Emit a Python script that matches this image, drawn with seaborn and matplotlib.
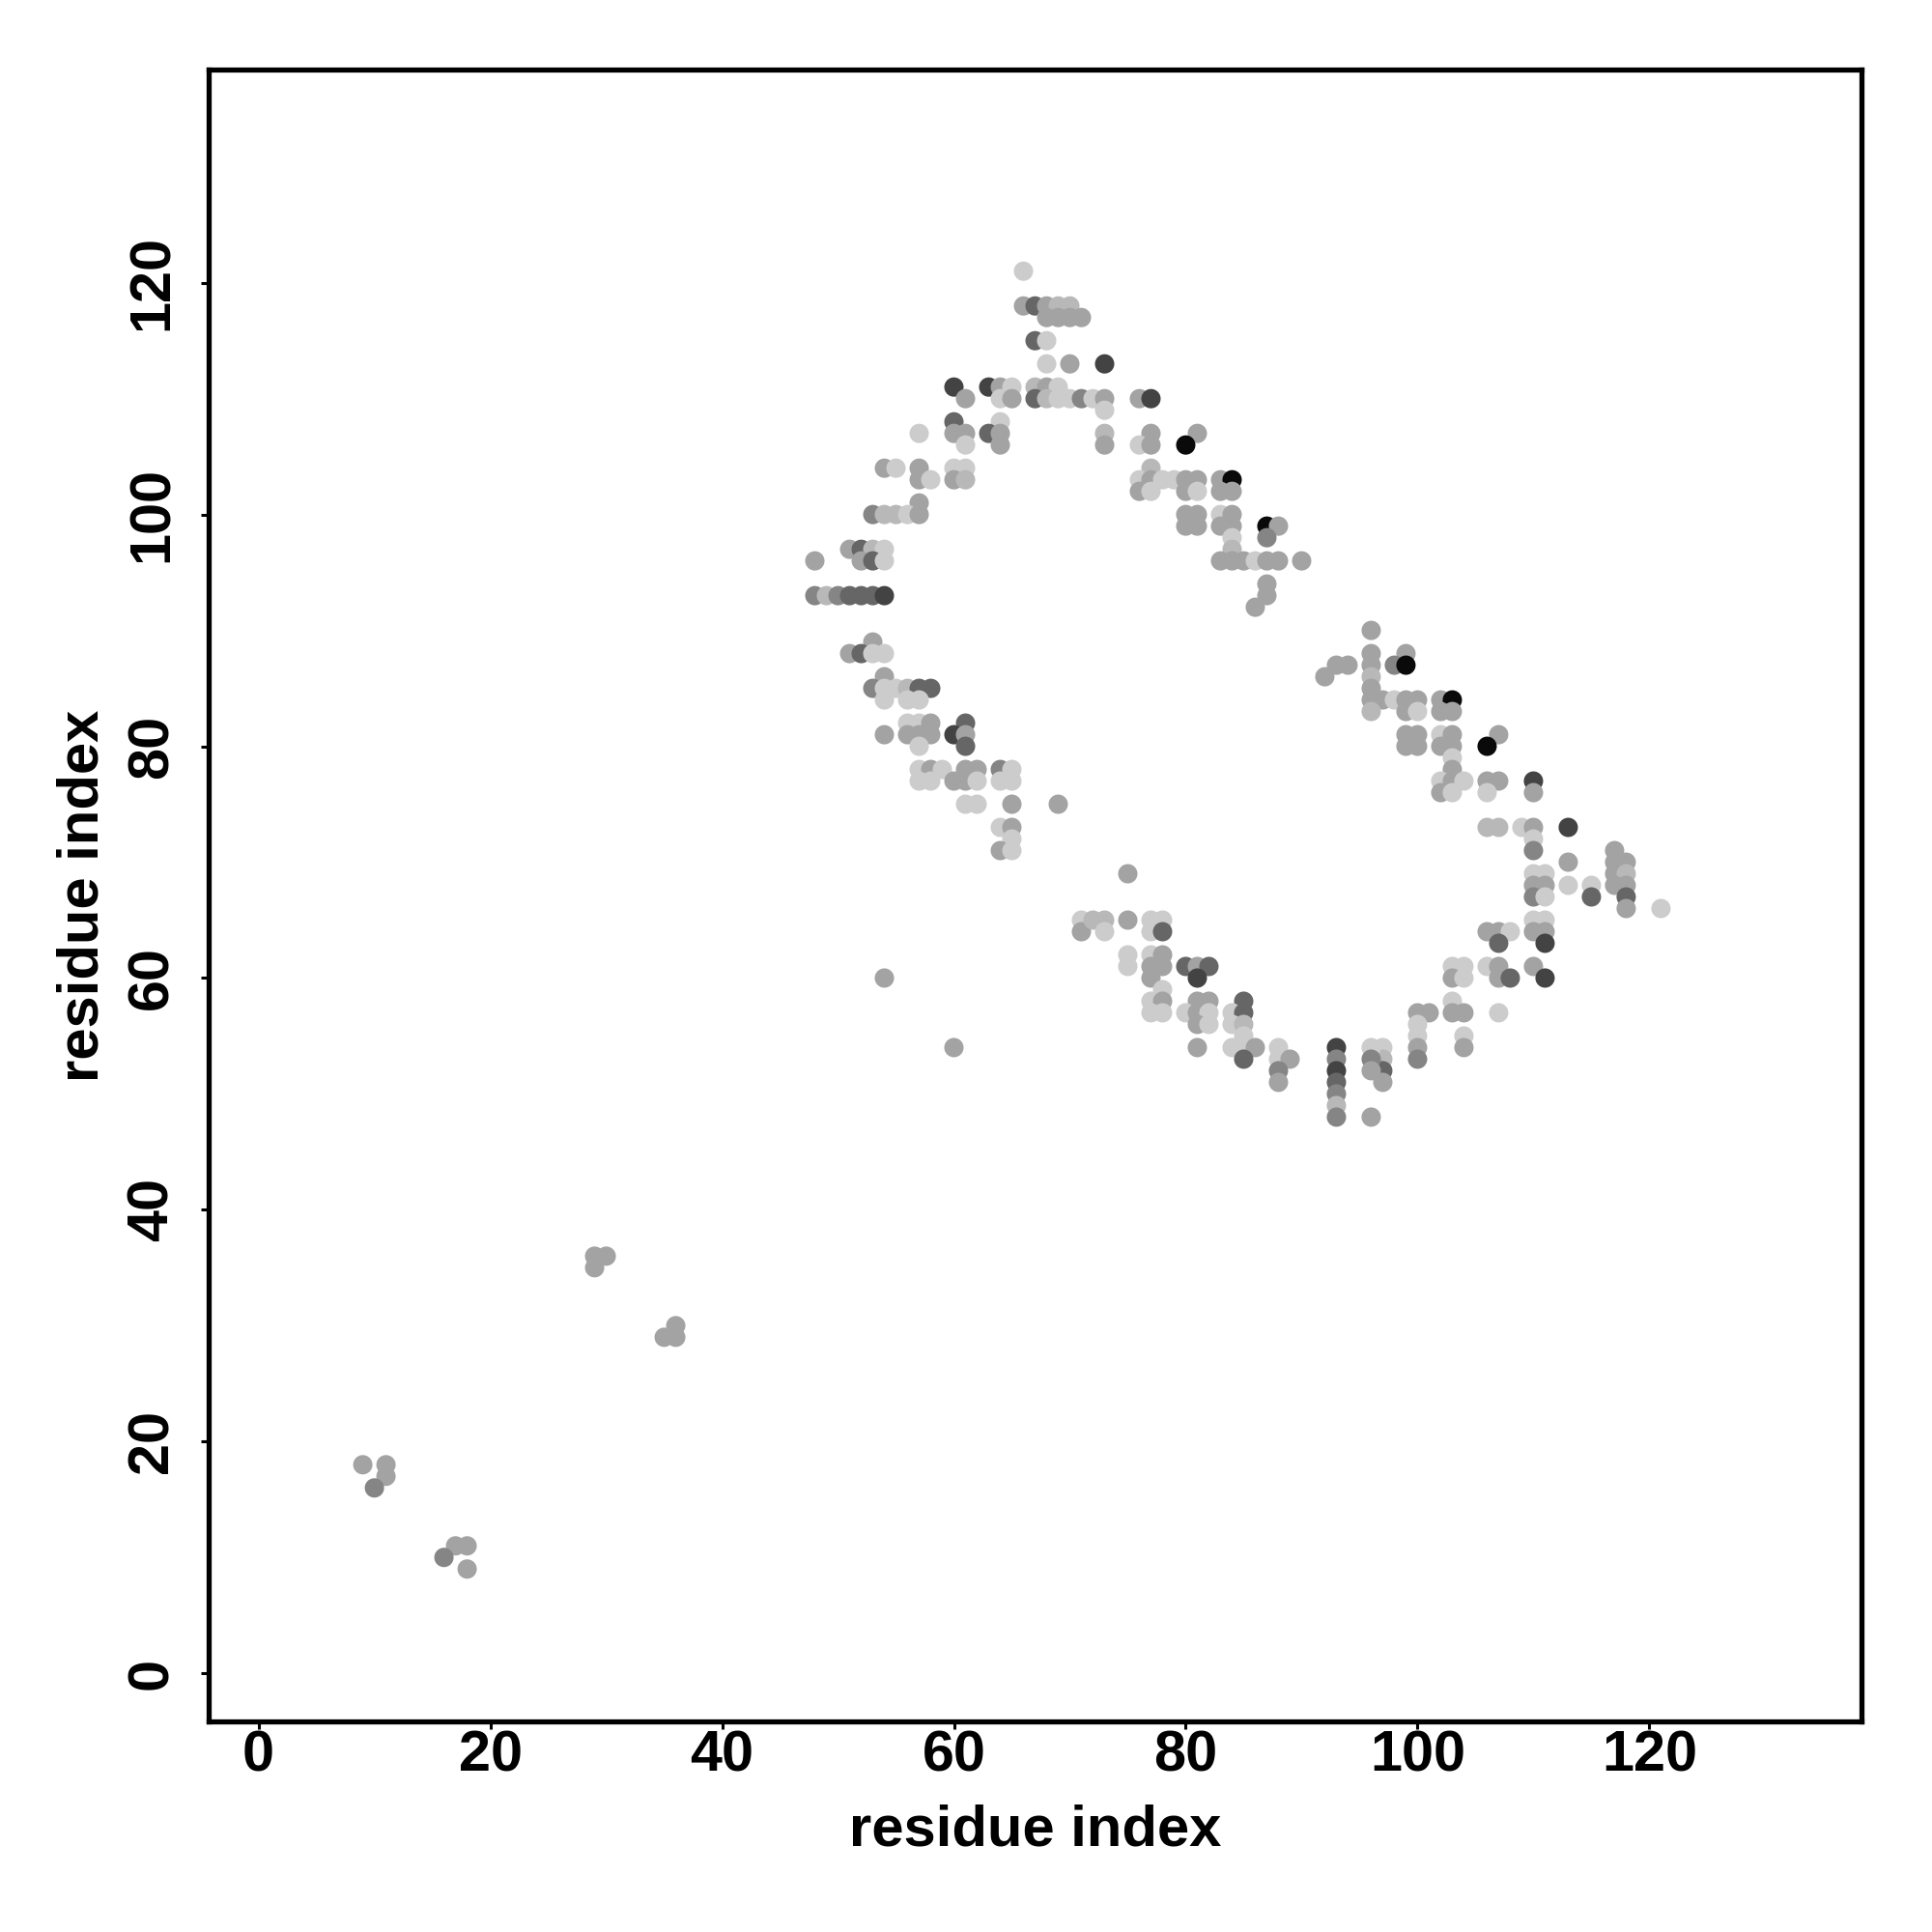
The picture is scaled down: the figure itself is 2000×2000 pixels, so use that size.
import matplotlib
matplotlib.use("Agg")
import matplotlib.pyplot as plt
import seaborn as sns
import pandas as pd
from matplotlib.colors import LinearSegmentedColormap

# shade codes -> score (0 = lightest grey, 1 = black)
SHADE = {"L": 0.0, "l": 0.1, "g": 0.2, "m": 0.35, "d": 0.5, "v": 0.67, "k": 0.95}

res_i = [9, 11, 11, 10, 17, 18, 16, 18, 29, 30, 29, 36, 35, 36,
         66,
         66, 67, 68, 69, 70,
         68, 69, 70, 71,
         67, 68,
         68, 70,
         60, 63, 64, 65, 67, 68, 69,
         61, 64, 65, 67, 68, 69, 70, 71, 72, 73,
         60, 64,
         57, 60, 61, 63, 64,
         61, 64,
         54, 55, 57, 60, 61,
         57, 58, 60, 61,
         57,
         53, 54, 55, 56, 57,
         51, 52, 53, 54,
         48, 52, 53, 54,
         48, 49, 50, 51, 52, 53, 54,
         53,
         51, 52, 53, 54,
         54,
         53, 54, 55, 56, 57, 58,
         54, 56, 57,
         56, 57, 58, 61,
         54, 56, 57, 58, 60, 61,
         57, 61,
         57, 58, 59, 61, 62, 64, 65,
         57, 58, 60, 61, 62, 64, 65,
         61, 62, 65, 69,
         64, 65,
         65,
         64, 65,
         54, 60, 71, 71,
         73,
         76, 77,
         73,
         73, 77, 81,
         73, 76, 77, 80,
         77,
         76, 77, 78, 79, 80, 81, 83, 84,
         76, 77, 80, 81, 83, 84,
         80, 81, 83, 84,
         80, 81, 83, 84, 87, 88,
         84, 87,
         84,
         83, 84, 85, 86, 87, 88, 90,
         87, 87, 86,
         96, 96, 93, 94, 96, 92, 96, 96, 96, 97, 96,
         99, 98, 99,
         98, 99, 100, 102, 103,
         99, 100, 102, 103,
         99, 100, 102, 103, 107,
         99, 100, 102, 103, 106,
         103, 103,
         102, 103, 104, 106, 107, 110,
         102, 103, 106, 110,
         106, 107, 109, 110, 113,
         110,
         110, 117,
         113, 117, 118,
         110, 111, 117, 118,
         110, 111, 113, 115, 117, 118,
         110, 111, 115, 118,
         118, 121,
         110, 111,
         106, 107, 108, 110, 111,
         107, 111,
         103, 104, 106, 107, 110,
         103, 104, 107, 108, 111,
         103,
         100, 101, 103, 104, 107,
         100, 100, 104,
         100, 104, 97,
         100, 97,
         97, 97,
         75,
         72, 73, 75, 77, 78,
         73, 77, 78,
         75, 77, 78,
         75, 77, 78, 80, 81, 82,
         77, 81,
         78,
         77, 78, 81, 82, 85,
         77, 78, 80, 81, 82, 84, 85,
         81, 82, 84, 85,
         85,
         81, 84, 85, 86, 88,
         85, 88, 89,
         88, 88,
         93, 93, 93, 93, 93, 93, 93,
         96, 96, 96, 96]

res_j = [18, 18, 17, 16, 11, 11, 10, 9, 36, 36, 35, 30, 29, 29,
         121,
         118, 118, 118, 118, 118,
         117, 117, 117, 117,
         115, 115,
         113, 113,
         111, 111, 111, 111, 111, 111, 111,
         110, 110, 110, 110, 110, 110, 110, 110, 110, 110,
         108, 108,
         107, 107, 107, 107, 107,
         106, 106,
         104, 104, 104, 104, 104,
         103, 103, 103, 103,
         101,
         100, 100, 100, 100, 100,
         97, 97, 97, 97,
         96, 96, 96, 96,
         93, 93, 93, 93, 93, 93, 93,
         89,
         88, 88, 88, 88,
         86,
         85, 85, 85, 85, 85, 85,
         84, 84, 84,
         82, 82, 82, 82,
         81, 81, 81, 81, 81, 81,
         80, 80,
         78, 78, 78, 78, 78, 78, 78,
         77, 77, 77, 77, 77, 77, 77,
         75, 75, 75, 75,
         73, 73,
         72,
         71, 71,
         60, 54, 65, 64,
         113,
         110, 110,
         109,
         107, 107, 107,
         106, 106, 106, 106,
         104,
         103, 103, 103, 103, 103, 103, 103, 103,
         102, 102, 102, 102, 102, 102,
         100, 100, 100, 100,
         99, 99, 99, 99, 99, 99,
         98, 98,
         97,
         96, 96, 96, 96, 96, 96, 96,
         94, 93, 92,
         90, 88, 87, 87, 87, 86, 86, 85, 84, 84, 83,
         88, 87, 87,
         84, 84, 84, 84, 84,
         83, 83, 83, 83,
         81, 81, 81, 81, 81,
         80, 80, 80, 80, 80,
         79, 78,
         77, 77, 77, 77, 77, 77,
         76, 76, 76, 76,
         73, 73, 73, 73, 73,
         72,
         71, 71,
         70, 70, 70,
         69, 69, 69, 69,
         68, 68, 68, 68, 68, 68,
         67, 67, 67, 67,
         66, 66,
         65, 65,
         64, 64, 64, 64, 64,
         63, 63,
         61, 61, 61, 61, 61,
         60, 60, 60, 60, 60,
         58,
         57, 57, 57, 57, 57,
         56, 55, 55,
         54, 54, 54,
         53, 53,
         52, 51,
         69,
         65, 65, 65, 65, 65,
         64, 64, 64,
         62, 62, 62,
         61, 61, 61, 61, 61, 61,
         60, 60,
         59,
         58, 58, 58, 58, 58,
         57, 57, 57, 57, 57, 57, 57,
         56, 56, 56, 56,
         55,
         54, 54, 54, 54, 54,
         53, 53, 53,
         52, 51,
         54, 53, 52, 51, 50, 49, 48,
         54, 53, 52, 48]

shade_rows = ["gggm", "ggmg", "ggg", "ggg",
              "L", "gdgll", "gggg", "dL", "Lg", "vvgLlgL", "gLgdlLLmLg",
              "dL", "Lggdg", "Lg", "gLgLL", "gLgl", "g", "mllLg",
              "gdlL", "ggdL", "mlmdddv", "g", "gdLL", "g", "mLLldd", "LLL",
              "LLgd", "ggggvg", "Ld", "LgLggmL", "LLggLLL", "LLgg", "Lg", "L", "gL",
              "ggLg",
              "v", "gv", "L", "lgg", "gLgk", "l", "LgLLgggk", "gLgLgg", "ggLg",
              "ggggkg", "Lm", "l", "gggLggg", "ggg", "gggggglgggl",
              "gmk", "Lgggk", "gLgg", "ggLgg", "ggggk", "Lg", "LgLggv", "gLLg",
              "llLgv", "L",
              "mg", "ggg", "LLgl", "ggLLgg", "mLdd", "gL", "LL", "ggLgg", "dv",
              "LLLgg", "gLgdv", "L", "ggggL", "LLL", "ggL", "ml", "dg",
              "g", "llgLL", "LLd", "LLg", "Lggdgd", "gv", "L", "Lgggd", "LLLgLLd",
              "gLLl", "L", "gLLgL", "dLg", "mg", "vmvdmlm", "Lmgg"]
score = [SHADE[c] for c in "".join(shade_rows)]

n = min(len(res_i), len(res_j), len(score))
df = pd.DataFrame({"i": res_i[:n], "j": res_j[:n], "score": score[:n]})

cmap = LinearSegmentedColormap.from_list("greys_r", ["#cccccc", "#000000"])

plt.rcParams["font.family"] = ["Liberation Sans", "DejaVu Sans"]
plt.rcParams["font.weight"] = "bold"

fig = plt.figure(figsize=(10, 10), dpi=200)
ax = fig.add_axes([0.108, 0.109, 0.8555, 0.855])
sns.scatterplot(data=df, x="i", y="j", hue="score", palette=cmap, hue_norm=(0, 1),
                s=52, linewidth=0, legend=False, ax=ax)

ax.set_xlim(-4.3, 138.3)
ax.set_ylim(-4.15, 138.4)
ticks = [0, 20, 40, 60, 80, 100, 120]
ax.set_xticks(ticks)
ax.set_yticks(ticks)
ax.set_xticklabels([str(t) for t in ticks], fontsize=21.4, fontweight="bold")
ax.set_yticklabels([str(t) for t in ticks], fontsize=21.4, fontweight="bold",
                   rotation=90, va="center")
ax.tick_params(axis="both", length=3, width=1.1, color="black")
ax.tick_params(axis="x", pad=0)
ax.tick_params(axis="y", pad=8)
ax.set_xlabel("residue index", fontsize=21.5, fontweight="bold", labelpad=8)
ax.set_ylabel("residue index", fontsize=21.5, fontweight="bold", labelpad=6)
for sp in ax.spines.values():
    sp.set_linewidth(1.9)
    sp.set_color("black")
ax.set_facecolor("white")
fig.savefig("out.png", dpi=200, facecolor="white")
